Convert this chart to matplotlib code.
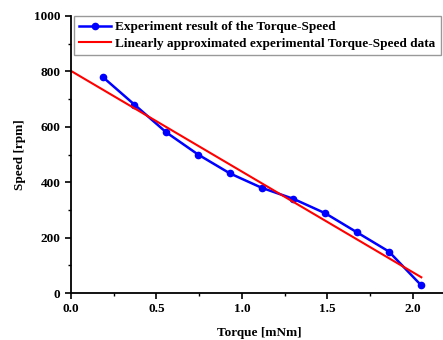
import numpy as np
import matplotlib.pyplot as plt
from matplotlib.ticker import MultipleLocator

# experiment points
torque = [0.186, 0.372, 0.558, 0.744, 0.93, 1.116, 1.302, 1.488, 1.674, 1.86, 2.046]
speed = [780, 680, 580, 500, 432, 380, 340, 288, 219, 150, 30]

# linear approximation endpoints
fit_torque = [0.0, 2.05]
fit_speed = [802, 57]

plt.rcParams['font.family'] = ['Liberation Serif', 'DejaVu Serif']
plt.rcParams['font.weight'] = 'bold'

fig = plt.figure(figsize=(4.43, 3.4), dpi=100)
ax = fig.add_axes([0.160, 0.138, 0.849, 0.815])

ax.plot(torque, speed, color='blue', lw=1.8, marker='o', ms=4.5,
        label='Experiment result of the Torque-Speed')
ax.plot(fit_torque, fit_speed, color='red', lw=1.5,
        label='Linearly approximated experimental Torque-Speed data')

ax.set_xlim(0, 2.2)
ax.set_ylim(0, 1000)
ax.xaxis.set_major_locator(MultipleLocator(0.5))
ax.xaxis.set_minor_locator(MultipleLocator(0.25))
ax.yaxis.set_major_locator(MultipleLocator(200))
ax.yaxis.set_minor_locator(MultipleLocator(100))
ax.set_xticks([0.0, 0.5, 1.0, 1.5, 2.0])
ax.tick_params(which='major', direction='out', length=4, width=1.2, labelsize=9.5)
ax.tick_params(which='minor', direction='out', length=2.5, width=1)
for lab in ax.get_xticklabels() + ax.get_yticklabels():
    lab.set_fontweight('bold')

ax.spines['top'].set_visible(False)
ax.spines['right'].set_visible(False)
ax.spines['left'].set_linewidth(1.3)
ax.spines['bottom'].set_linewidth(1.3)

ax.set_xlabel('Torque [mNm]', fontsize=9.5, fontweight='bold', labelpad=8)
ax.set_ylabel('Speed [rpm]', fontsize=9.5, fontweight='bold', labelpad=6)

leg = ax.legend(loc='upper left', bbox_to_anchor=(0.008, 1.0),
                prop={'weight': 'bold', 'size': 9.5}, fancybox=False,
                framealpha=1, edgecolor='#999999', borderaxespad=0.0,
                handlelength=2.4, handletextpad=0.35, borderpad=0.4,
                labelspacing=0.3)
leg.get_frame().set_linewidth(1.0)

fig.savefig('out.png', dpi=100)
